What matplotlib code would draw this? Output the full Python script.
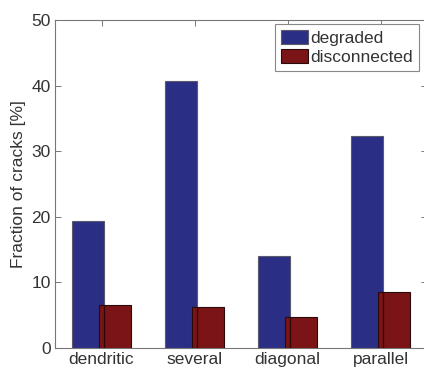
import matplotlib
matplotlib.use("Agg")
import matplotlib.pyplot as plt
import numpy as np

categories = ["dendritic", "several", "diagonal", "parallel"]
degraded = [19.4, 40.7, 14.0, 32.3]
disconnected = [6.5, 6.3, 4.7, 8.5]

plt.rcParams["font.family"] = ["Liberation Sans", "DejaVu Sans"]

fig = plt.figure(figsize=(4.24, 3.67), dpi=100)
ax = fig.add_axes([55 / 424, 19 / 367, 372 / 424, 328 / 367])

x = np.arange(1, len(categories) + 1)
w = 0.345
off = 0.143
blue = "#2B2E85"
red = "#7B1416"

b1 = ax.bar(x - off, degraded, w, color=blue, edgecolor="#5a5a6a", linewidth=0.8, zorder=2)
b2 = ax.bar(x + off, disconnected, w, color=red, edgecolor="#2a0a0a", linewidth=0.8, zorder=3)
# right edge of the blue bars shows through the red ones
ax.vlines(x - off + w / 2, 0, disconnected, color="#2a0808", linewidth=0.9, zorder=4)

ax.set_xlim(0.5, 4.5)
ax.set_ylim(0, 50)
ax.set_xticks(x)
ax.set_xticklabels(categories)
ax.set_yticks([0, 10, 20, 30, 40, 50])
ax.set_ylabel("Fraction of cracks [%]", fontsize=12.5, color="#333333", labelpad=4)

for s in ax.spines.values():
    s.set_color("#777777")
    s.set_linewidth(0.8)
ax.tick_params(direction="in", length=4, width=0.7, color="#777777",
               labelsize=12.5, labelcolor="#333333", top=True, right=True, pad=3)

leg = ax.legend([b1, b2], ["degraded", "disconnected"], loc="upper right",
                bbox_to_anchor=(419 / 424, 1 - 24 / 367), bbox_transform=fig.transFigure,
                borderaxespad=0, fontsize=12.5, fancybox=False, framealpha=1,
                edgecolor="#888888", handlelength=1.55, handleheight=0.85,
                handletextpad=0.15, borderpad=0.35, labelspacing=0.2)
leg.get_frame().set_linewidth(0.8)
for t in leg.get_texts():
    t.set_color("#333333")

fig.savefig("out.png", dpi=100)
